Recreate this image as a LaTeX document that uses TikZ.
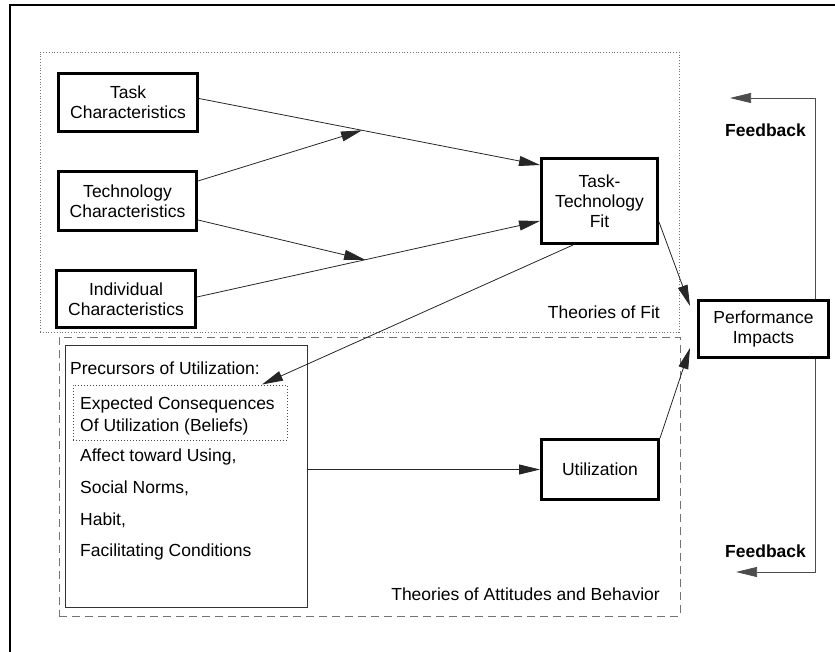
\documentclass[tikz,border=0pt]{standalone}
\usepackage{fontspec}
\setmainfont{Liberation Sans}
\usetikzlibrary{arrows.meta,calc}

\begin{document}
\begin{tikzpicture}[x=1pt,y=-1pt,
  txt/.style={font=\fontsize{17.5}{20}\selectfont, inner sep=0pt},
  core/.style={txt, draw, line width=3pt, align=center},
  region/.style={draw=black!55, line width=0.8pt},
  arr/.style={-{Triangle[length=21pt,width=10pt]}, line width=0.8pt, draw=black!85},
  fbline/.style={-{Triangle[length=21pt,width=10pt]}, line width=0.7pt, draw=black!70}]
\useasboundingbox (0,0) rectangle (835,652);

% frame
\draw[line width=2pt] (10,652) -- (10,5) -- (835,5);

% theory regions
\node[region, dotted, minimum width=639pt, minimum height=280pt, inner sep=0pt] (fitregion) at (359.5,192) {};
\node[region, dash pattern=on 8pt off 5pt, minimum width=621pt, minimum height=279pt, inner sep=0pt] (attregion) at (369.5,476.5) {};
\node[txt, anchor=base east] (fitlbl) at (660,319) {Theories of Fit};
\node[txt, anchor=base east] (attlbl) at (660,600) {Theories of Attitudes and Behavior};

% main boxes
\node[core, minimum width=139pt, minimum height=58pt] (task) at (128,102.5) {Task\\Characteristics};
\node[core, minimum width=138pt, minimum height=59pt] (tech) at (127.5,201) {Technology\\Characteristics};
\node[core, minimum width=139pt, minimum height=57pt] (indiv) at (126,299) {Individual\\Characteristics};
\node[core, minimum width=116pt, minimum height=85pt] (ttf) at (599.5,201) {Task-\\Technology\\Fit};
\node[core, minimum width=130pt, minimum height=57pt] (perf) at (763.5,329) {Performance\\Impacts};
\node[core, minimum width=117pt, minimum height=60pt] (util) at (600,469.5) {Utilization};

% precursors of utilization
\node[draw=black!80, line width=0.9pt, minimum width=242pt, minimum height=262pt, inner sep=0pt] (prec) at (186,476) {};
\node[txt, anchor=base west] (prectitle) at (70,374) {Precursors of Utilization:};
\node[draw=black!70, dotted, line width=1pt, minimum width=214pt, minimum height=55pt, inner sep=0pt] (exp) at (180,412.5) {};
\node[txt, anchor=base west] (exp1) at (80,409) {Expected Consequences};
\node[txt, anchor=base west] (exp2) at (80,431) {Of Utilization (Beliefs)};
\node[txt, anchor=base west] (aff) at (80,461) {Affect toward Using,};
\node[txt, anchor=base west] (soc) at (80,493) {Social Norms,};
\node[txt, anchor=base west] (hab) at (80,525) {Habit,};
\node[txt, anchor=base west] (fac) at (80,556) {Facilitating Conditions};

% fit links with interaction points
\draw[arr] ($(task.east)+(0,-4)$) -- coordinate[pos=0.478] (m1) ($(ttf.west)+(0,-36)$);
\draw[arr] ($(indiv.east)+(0,-2)$) -- coordinate[pos=0.49] (m2) ($(ttf.west)+(0,20)$);
\draw[arr] ($(tech.east)+(0,-20)$) -- (m1);
\draw[arr] ($(tech.east)+(0,19)$) -- (m2);

% fit to beliefs, utilization, performance
\draw[arr] ($(ttf.south)+(-26.5,0)$) -- ($(exp.north)+(82,0)$);
\draw[arr] (prec.east |- util.west) -- (util.west);
\draw[arr] ($(ttf.east)+(0,21)$) -- ($(perf.north west)+(-7,7)$);
\draw[arr] (util.north east) -- ($(perf.south west)+(-7,-11)$);

% feedback loops
\coordinate (fbtop) at (730,98);
\coordinate (fbbot) at (736,572);
\draw[fbline] ($(perf.north)+(51.5,0)$) |- (fbtop);
\draw[fbline] ($(perf.south)+(51.5,0)$) |- (fbbot);
\node[txt, font=\fontsize{17.5}{20}\selectfont\bfseries, anchor=base west] (fb1) at (725,137) {Feedback};
\node[txt, font=\fontsize{17.5}{20}\selectfont\bfseries, anchor=base west] (fb2) at (725,557) {Feedback};
\end{tikzpicture}
\end{document}
